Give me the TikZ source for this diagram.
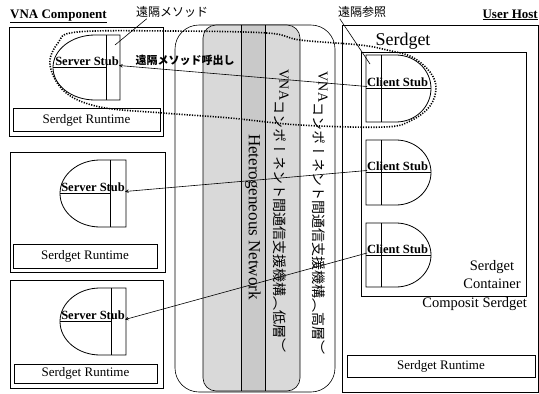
\documentclass[tikz,border=0pt]{standalone}
\usepackage{fontspec}
\setmainfont{Liberation Serif}
\newfontfamily\jp{Noto Sans CJK JP}
\newfontfamily\tate[Vertical=RotatedGlyphs]{Noto Sans CJK JP}
\usepackage{tikz}

\begin{document}
\begin{tikzpicture}[x=1pt,y=-1pt,>=stealth,
  box/.style={draw,line width=0.6pt},
  stub/.style={draw,line width=0.8pt},
  rttext/.style={font=\fontsize{13}{15}\selectfont},
  stubtext/.style={font=\bfseries\fontsize{12.5}{14}\selectfont,inner sep=0pt},
  title/.style={font=\bfseries\fontsize{13}{15}\selectfont,inner sep=0pt},
  jplabel/.style={font=\jp\fontsize{12}{14}\selectfont,inner sep=1pt}]

\useasboundingbox (0,0) rectangle (539,394);

% communication layers
\draw[line width=0.6pt,rounded corners=24] (175,25) rectangle (335,392);
\fill[gray!30,rounded corners=13] (203,25) rectangle (300,391);
\fill[gray!42] (241,25) rectangle (265,391);
\draw[line width=0.6pt,rounded corners=13] (203,25) rectangle (300,391);
\draw[line width=0.6pt] (241,25) -- (241,391);
\draw[line width=0.6pt] (265,25) -- (265,391);

\node[rotate=-90,font=\fontsize{17}{19}\selectfont] (net) at (253,217) {Heterogeneous Network};
\node[rotate=-90,font=\fontsize{14}{16}\selectfont] (low) at (281,211) {\raisebox{5pt}{VNA}{\tate コンポーネント間通信支援機構（低層）}};
\node[rotate=-90,font=\fontsize{14}{16}\selectfont] (high) at (320,213) {\raisebox{5pt}{VNA}{\tate コンポーネント間通信支援機構（高層）}};

% -------- VNA components (left) --------
\node[title,anchor=base west] (vnac) at (10,18) {\underline{VNA Component}};

\draw[box] (9,27) rectangle (163,136);
\draw[box] (10,152) rectangle (165,272);
\draw[box] (10,280) rectangle (163,388);

\node[box,rttext,minimum width=147,minimum height=23] (rt1) at (86.5,120) {Serdget Runtime};
\node[box,rttext,minimum width=144,minimum height=24] (rt2) at (85,256) {Serdget Runtime};
\node[box,rttext,minimum width=143,minimum height=19] (rt3) at (85.5,373.5) {Serdget Runtime};

% server stubs: left / centre / bar / right / top / bottom
\foreach \l/\c/\v/\r/\t/\b/\n in {53/95/106/120/35/100/1,60/100/110/126/160/227/2,60/100/111/126/288/355/3}{
  \pgfmathsetmacro{\m}{(\t+\b)/2}
  \pgfmathsetmacro{\ry}{(\b-\t)/2}
  \draw[stub] (\r,\t) -- (\c,\t)
    .. controls ({\c-0.552*(\c-\l)},\t) and (\l,{\m-0.552*\ry}) .. (\l,\m)
    .. controls (\l,{\m+0.552*\ry}) and ({\c-0.552*(\c-\l)},\b) .. (\c,\b)
    -- (\r,\b) -- cycle;
  \draw[line width=0.6pt] (\v,\t) -- (\v,\b);
  \draw[line width=0.6pt] (\l,\m) -- (\v,\m);
  \node[stubtext,anchor=base east] (ss\n) at ({\r-1},{\m-2}) {Server Stub};
}

% -------- user host (right) --------
\node[title,anchor=base east] (uhost) at (538,18) {\underline{User Host}};
\draw[box] (342,25) rectangle (538,392);
\node[box,rttext,minimum width=188,minimum height=22] (rt4) at (441,366) {Serdget Runtime};

\node[font=\fontsize{18}{20}\selectfont,anchor=base,inner sep=0pt] (sdg) at (403,45) {Serdget};
\draw[box] (361,52) rectangle (526,296);
\node[font=\fontsize{14.5}{18}\selectfont,align=center,anchor=north,inner sep=0pt] (cont) at (492,260) {Serdget\\Container};
\node[font=\fontsize{14.5}{17}\selectfont,anchor=base east,inner sep=0pt] (comp) at (527,307) {Composit Serdget};

% client stubs
\foreach \t/\b/\n in {55/122/1,140/205/2,223/287/3}{
  \pgfmathsetmacro{\m}{(\t+\b)/2}
  \pgfmathsetmacro{\ry}{(\b-\t)/2}
  \draw[stub] (366,\t) -- (396,\t)
    .. controls ({396+0.552*35},\t) and (431,{\m-0.552*\ry}) .. (431,\m)
    .. controls (431,{\m+0.552*\ry}) and ({396+0.552*35},\b) .. (396,\b)
    -- (366,\b) -- cycle;
  \draw[line width=0.6pt] (381,\t) -- (381,\b);
  \draw[line width=0.6pt] (366,\m) -- (431,\m);
  \node[stubtext,anchor=base west] (cs\n) at (367,{\m-2}) {Client Stub};
}

% remote method calls
\draw[->,line width=0.6pt] (cs1.base west) -- (ss1.base east);
\draw[->,line width=0.6pt] (cs2.base west) -- (ss2.base east);
\draw[->,line width=0.6pt] (cs3.base west) -- (ss3.base east);
\node[font=\jp\bfseries\fontsize{11}{13}\selectfont] (call) at (185,60) {遠隔メソッド呼出し};

% labels with pointers
\node[jplabel] (rmeth) at (172,12) {遠隔メソッド};
\coordinate (rmethtip) at (115,45);
\draw[line width=0.6pt] ([xshift=12pt]rmeth.south west) -- (rmethtip);

\node[jplabel] (rref) at (362,12) {遠隔参照};
\coordinate (rreftip) at (370,64);
\draw[line width=0.6pt] ([xshift=3pt]rref.south west) -- (rreftip);

% remote call region
\draw[line width=1.6pt,dash pattern=on 1.2pt off 1.4pt]
  plot[smooth cycle,tension=0.6] coordinates {(77,32) (170,31) (267,33) (300,40) (360,45) (387,50) (412,57) (430,72) (436,88) (430,106) (412,120) (385,127) (300,125) (230,118) (163,113) (100,107) (65,92) (50,65) (58,43)};

\end{tikzpicture}
\end{document}
